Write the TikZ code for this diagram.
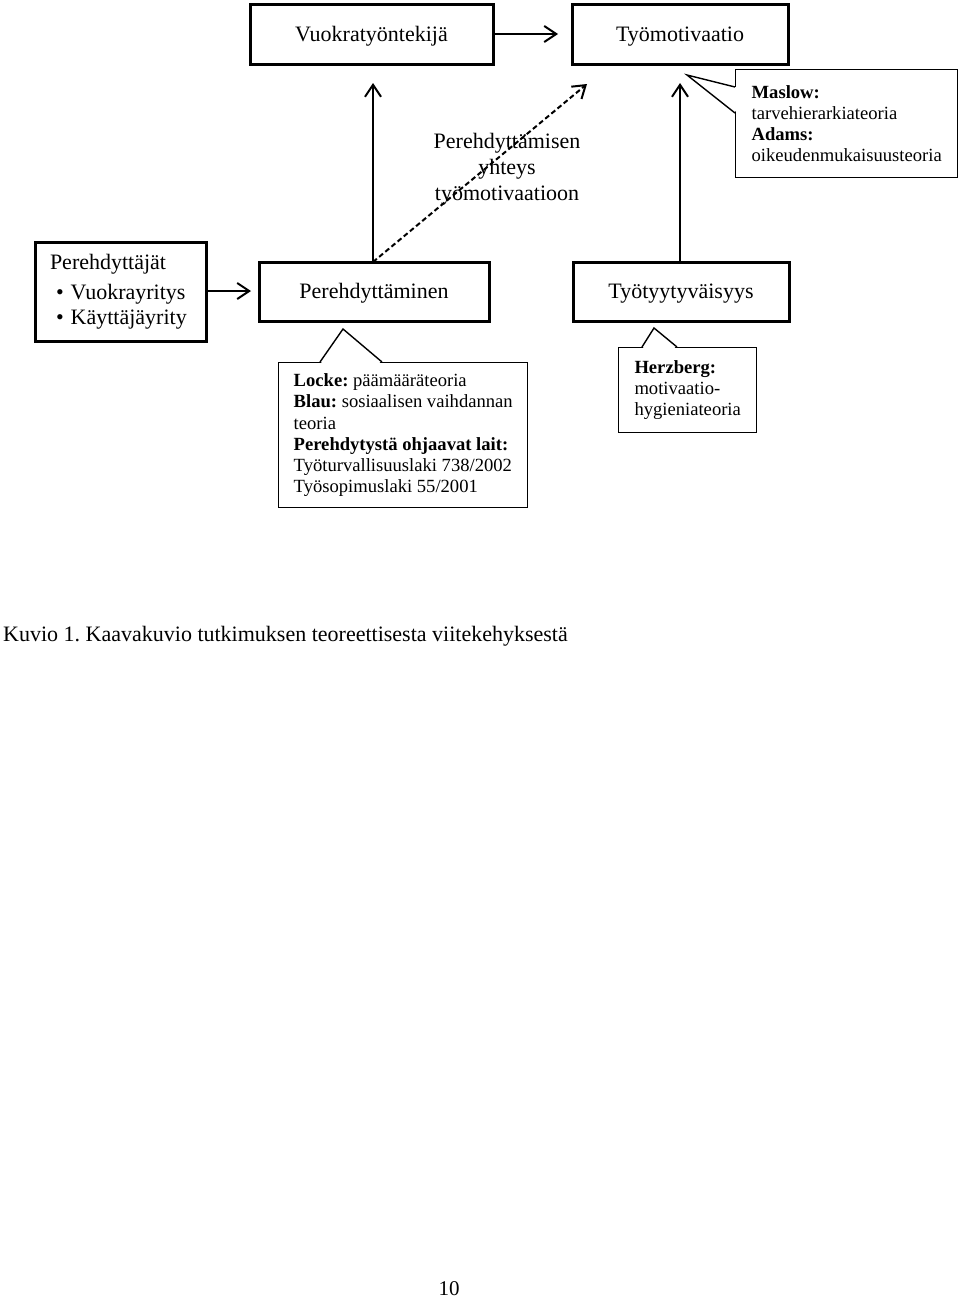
\documentclass[tikz,border=0pt]{standalone}
\usepackage{fontspec}
\setmainfont{Liberation Serif}
\usetikzlibrary{arrows.meta}
\frenchspacing
\begin{document}
\begin{tikzpicture}[x=1pt,y=-1pt,
  mainbox/.style={draw,line width=3pt,inner sep=0pt,text height=17pt,text depth=3pt,font=\fontsize{22}{27.5}\selectfont},
  callout/.style={draw,line width=1.4pt,inner xsep=15pt,inner ysep=0pt,align=left,anchor=north west,font=\fontsize{18.6}{21.2}\selectfont},
  conn/.style={line width=2pt,-{Straight Barb[length=12pt,width=16pt,line width=2pt]}},
  dashconn/.style={conn,dash pattern=on 5pt off 3pt}]
\useasboundingbox[fill=white] (0,0) rectangle (960,1299);

% main boxes
\node[mainbox,minimum width=243pt,minimum height=60pt] (vt) at (371.5,34) {Vuokratyöntekijä};
\node[mainbox,minimum width=216pt,minimum height=60pt] (tm) at (680,34) {Työmotivaatio};
\node[mainbox,minimum width=230pt,minimum height=59pt] (pd) at (374,291.5) {Perehdyttäminen};
\node[mainbox,minimum width=216pt,minimum height=59pt] (tt) at (681,291.5) {Työtyytyväisyys};
\node[draw,line width=3pt,minimum width=171pt,minimum height=99pt,align=left,inner xsep=15pt,inner ysep=0pt,text width=141pt,
      font=\fontsize{22}{27.5}\selectfont] (pj) at (120.5,292)
  {Perehdyttäjät\\[2pt]
   \hspace*{6pt}•\hspace{7pt}Vuokrayritys\\[-2pt]
   \hspace*{6pt}•\hspace{7pt}Käyttäjäyrity};

% callouts
\node[callout,minimum width=222pt,minimum height=108pt,inner xsep=14pt] (maslow) at (735,69)
  {\textbf{Maslow:}\\tarvehierarkiateoria\\\textbf{Adams:}\\oikeudenmukaisuusteoria};
\node[callout,minimum width=249pt,minimum height=145pt] (locke) at (278,362)
  {\textbf{Locke:} päämääräteoria\\\textbf{Blau:} sosiaalisen vaihdannan\\teoria\\\textbf{Perehdytystä ohjaavat lait:}\\Työturvallisuuslaki 738/2002\\Työsopimuslaki 55/2001};
\node[callout,minimum width=138pt,minimum height=85pt] (herz) at (618,347)
  {\textbf{Herzberg:}\\motivaatio-\\hygieniateoria};

% callout pointers
\fill[white] (737,87.5) -- (687,75) -- (737,112.5) -- cycle;
\draw[line width=1.4pt,line join=miter] (735,87) -- (687,75) -- (735,113);
\fill[white] (320.5,364) -- (343,329) -- (381.5,364) -- cycle;
\draw[line width=1.4pt] (320,362) -- (343,329) -- (382,362);
\fill[white] (642.5,349) -- (654,328) -- (676.5,349) -- cycle;
\draw[line width=1.4pt] (642,347) -- (654,328) -- (677,347);

% connector end points
\coordinate (e1) at (558,34);
\coordinate (e2) at (251,291);
\coordinate (e3) at (373,83);
\coordinate (e4) at (587,84);
\coordinate (e5) at (680,83);
\coordinate (s3) at (373,262);
\coordinate (s5) at (680,262);

\draw[conn] (vt.east) -- (e1);
\draw[conn] (pj.east |- e2) -- (e2);
\draw[conn] (s3) -- (e3);
\draw[dashconn] (s3) -- (e4);
\draw[conn] (s5) -- (e5);

% labels
\node[align=center,inner sep=0pt,font=\fontsize{22}{26}\selectfont] (lab) at (507,169)
  {Perehdyttämisen\\yhteys\\työmotivaatioon};
\node[anchor=west,inner sep=0pt,font=\fontsize{22}{26}\selectfont] (cap) at (3,636)
  {Kuvio 1. Kaavakuvio tutkimuksen teoreettisesta viitekehyksestä};
\node[inner sep=0pt,font=\fontsize{21}{26}\selectfont] (pg) at (449,1289) {10};
\end{tikzpicture}
\end{document}
